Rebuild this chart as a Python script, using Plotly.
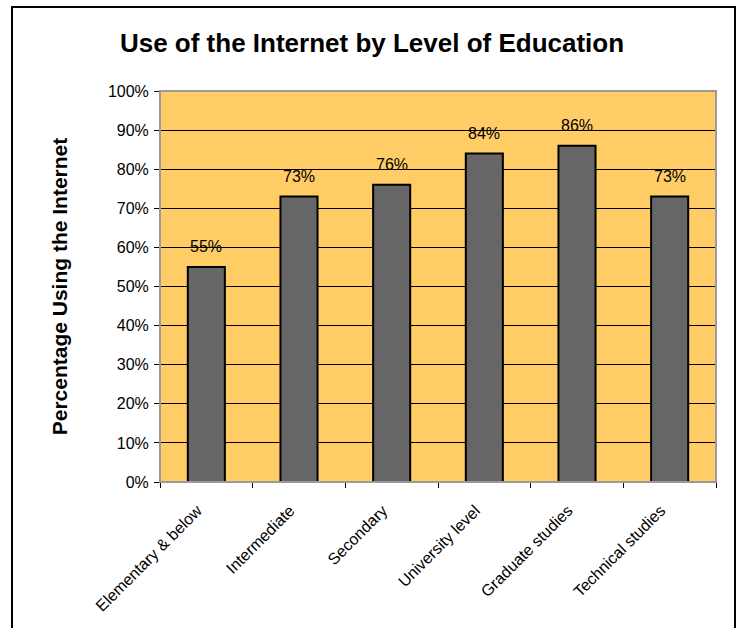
import plotly.graph_objects as go

# Education levels and share of people using the Internet (%)
levels = ["Elementary & below", "Intermediate", "Secondary",
          "University level", "Graduate studies", "Technical studies"]
usage_pct = [55, 73, 76, 84, 86, 73]
y_ticks = [0, 10, 20, 30, 40, 50, 60, 70, 80, 90, 100]
y_tick_labels = [f"{v}%" for v in y_ticks]

FONT = "Liberation Sans, Arial, sans-serif"
W, H = 739, 628
ML, MR, MT, MB = 160, 23, 91, 146
plot_w = W - ML - MR
plot_h = H - MT - MB

fig = go.Figure()
fig.add_trace(go.Bar(
    x=levels,
    y=usage_pct,
    width=0.4,
    marker=dict(color="#666666", line=dict(color="#000000", width=2)),
    hoverinfo="x+y",
))

# value labels above each bar
for lv, v in zip(levels, usage_pct):
    fig.add_annotation(
        x=lv, y=v, text=f"{v}%", showarrow=False,
        yanchor="middle", yshift=20,
        font=dict(family=FONT, size=16, color="#000000"),
    )

# outer frame of the chart (bottom edge falls below the page)
def px_x(p):
    return (p - ML) / plot_w

def px_y(p):
    return (H - MB - p) / plot_h

fig.add_shape(type="rect", xref="paper", yref="paper",
              x0=px_x(12), x1=px_x(735), y0=px_y(700), y1=px_y(7),
              line=dict(color="#000000", width=2), layer="below")

# plot area border (grey top and right edges)
fig.add_shape(type="rect", xref="paper", yref="paper",
              x0=0, x1=1, y0=0, y1=1,
              line=dict(color="#9a9a9a", width=2), layer="above")

fig.update_layout(
    width=W, height=H,
    margin=dict(l=ML, r=MR, t=MT, b=MB),
    paper_bgcolor="#ffffff",
    plot_bgcolor="#FFCC66",
    showlegend=False,
    title=dict(
        text="<b>Use of the Internet by Level of Education</b>",
        x=372 / W, xref="container", xanchor="center",
        y=1 - 43 / H, yanchor="middle",
        font=dict(family=FONT, size=26, color="#000000"),
    ),
    font=dict(family=FONT, color="#000000"),
    bargap=0.6,
)

fig.update_yaxes(
    range=[0, 100],
    tickmode="array", tickvals=y_ticks, ticktext=y_tick_labels,
    tickfont=dict(family=FONT, size=16, color="#000000"),
    ticks="outside", ticklen=5, tickcolor="#000000",
    ticklabelstandoff=2,
    showgrid=True, gridcolor="#000000", gridwidth=1,
    showline=True, linecolor="#000000", linewidth=1,
    zeroline=False,
    automargin=False,
    title=dict(text="<b>Percentage Using the Internet</b>",
               font=dict(family=FONT, size=21, color="#000000"),
               standoff=34),
    fixedrange=True,
)

fig.update_xaxes(
    type="category",
    tickangle=-45,
    tickfont=dict(family=FONT, size=16, color="#000000"),
    ticks="outside", ticklen=5, tickcolor="#000000",
    tickson="boundaries",
    ticklabelstandoff=12,
    ticklabelshift=-9,
    showline=True, linecolor="#000000", linewidth=1,
    showgrid=False,
    automargin=False,
    fixedrange=True,
)

fig.write_html("out.html")
